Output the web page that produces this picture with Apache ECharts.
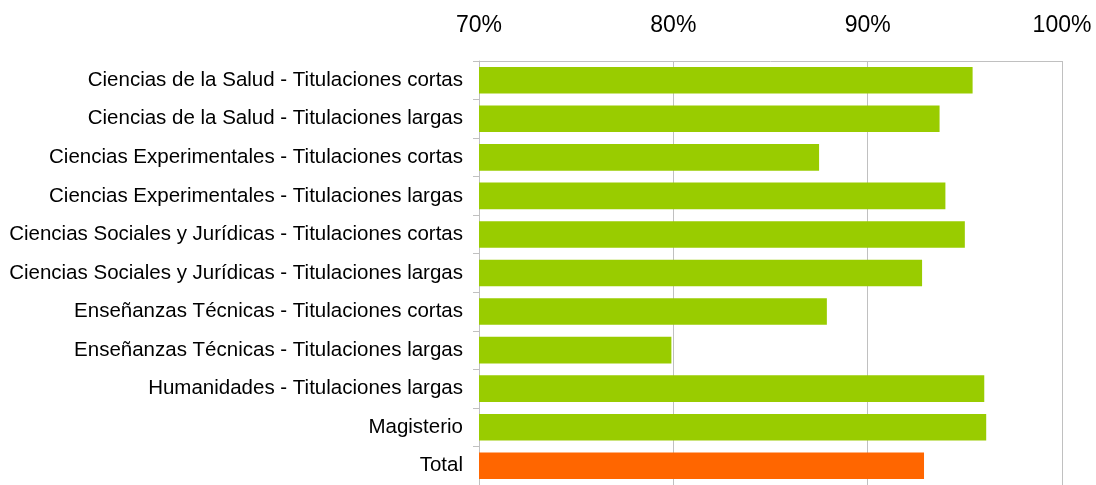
<!DOCTYPE html>
<html>
<head>
<meta charset="utf-8">
<script src="https://cdn.jsdelivr.net/npm/echarts@6/dist/echarts.min.js"></script>
<style>
  html, body { margin: 0; padding: 0; background: #fff; }
  #chart { width: 1096px; height: 485px; }
</style>
</head>
<body>
<div id="chart"></div>
<script>
// categories top to bottom
const categories = [
  'Ciencias de la Salud - Titulaciones cortas',
  'Ciencias de la Salud - Titulaciones largas',
  'Ciencias Experimentales - Titulaciones cortas',
  'Ciencias Experimentales - Titulaciones largas',
  'Ciencias Sociales y Jurídicas - Titulaciones cortas',
  'Ciencias Sociales y Jurídicas - Titulaciones largas',
  'Enseñanzas Técnicas - Titulaciones cortas',
  'Enseñanzas Técnicas - Titulaciones largas',
  'Humanidades - Titulaciones largas',
  'Magisterio',
  'Total'
];
// percentages
const values = [95.4, 93.7, 87.5, 94.0, 95.0, 92.8, 87.9, 79.9, 96.0, 96.1, 92.9];
const ticks = [70, 80, 90, 100];

const green = '#99cc00';
const orange = '#ff6600';
const gridColor = '#c0c0c0';

const chart = echarts.init(document.getElementById('chart'));
const option = {
  animation: false,
  grid: { left: 479, right: 34, top: 61, height: 427 },
  xAxis: {
    type: 'value',
    position: 'top',
    min: ticks[0],
    max: ticks[ticks.length - 1],
    interval: 10,
    axisLine: { show: true, lineStyle: { color: gridColor } },
    axisTick: { show: false },
    axisLabel: {
      formatter: '{value}%',
      fontFamily: 'Liberation Sans, Arial',
      fontSize: 23,
      color: '#000',
      margin: 24
    },
    splitLine: { show: true, lineStyle: { color: gridColor, width: 1 } }
  },
  yAxis: {
    type: 'category',
    inverse: true,
    data: categories,
    axisLine: { show: true, lineStyle: { color: gridColor } },
    axisTick: { show: true, length: 6, lineStyle: { color: gridColor } },
    axisLabel: {
      fontFamily: 'Liberation Sans, Arial',
      fontSize: 20.5,
      color: '#000',
      margin: 16
    }
  },
  series: [{
    type: 'bar',
    barWidth: '69%',
    data: values.map((v, i) => ({
      value: v,
      itemStyle: { color: categories[i] === 'Total' ? orange : green }
    }))
  }]
};
chart.setOption(option);
</script>
</body>
</html>
